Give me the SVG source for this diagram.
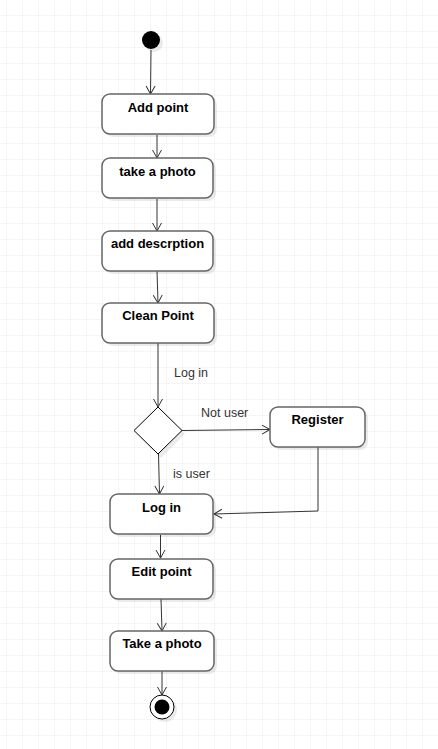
<svg xmlns="http://www.w3.org/2000/svg" width="438" height="749" viewBox="0 0 438 749">
<defs>
<pattern id="grid" x="6" y="15" width="16" height="16" patternUnits="userSpaceOnUse">
<path d="M0,0 H16 M0,0 V16" fill="none" stroke="#ebebeb" stroke-width="1"/>
</pattern>
<marker id="arr" markerWidth="12" markerHeight="12" refX="9" refY="5" orient="auto" markerUnits="userSpaceOnUse">
<path d="M1,0.5 L9,5 L1,9.5" fill="none" stroke="#333" stroke-width="1"/>
</marker>
</defs>
<style>
.node{fill:#fff;stroke:#666;stroke-width:1.5}
.shadow{fill:#000;opacity:0.08}
.t{font-family:"Liberation Sans",Arial,sans-serif;font-size:13px;font-weight:bold;fill:#000;text-anchor:middle}
.lbl{font-family:"Liberation Sans",Arial,sans-serif;font-size:12.5px;fill:#333}
.e{fill:none;stroke:#333;stroke-width:1;marker-end:url(#arr)}
</style>
<rect width="438" height="749" fill="#fff"/>
<rect width="438" height="749" fill="url(#grid)"/>

<g id="connectors">
<path class="e" d="M151,50 L150.5,94"/>
<path class="e" d="M157,135 L157,158"/>
<path class="e" d="M157,199 L157,231"/>
<path class="e" d="M157,271 L158,303"/>
<path class="e" d="M158,343 L158,407"/>
<path class="e" d="M182,430.5 L270,429.5"/>
<path class="e" d="M158.5,454 L159.5,494"/>
<path class="e" d="M318,447 L318,511 L214,514"/>
<path class="e" d="M160.5,535 L160.5,558"/>
<path class="e" d="M161,599 L162,631"/>
<path class="e" d="M162,671 L162,695"/>
<text class="lbl" x="174" y="377">Log in</text>
<text class="lbl" x="201" y="417">Not user</text>
<text class="lbl" x="173" y="478">is user</text>
</g>

<g id="start">
<circle class="shadow" cx="154" cy="43" r="9"/>
<circle cx="151" cy="40" r="9" fill="#000"/>
</g>
<g id="add-point">
<rect class="shadow" x="105" y="97" width="112" height="40" rx="8"/>
<rect class="node" x="102" y="94" width="112" height="40" rx="8"/>
<text class="t" x="158" y="112">Add point</text>
</g>
<g id="take-photo-1">
<rect class="shadow" x="105" y="161" width="111" height="40" rx="8"/>
<rect class="node" x="102" y="158" width="111" height="40" rx="8"/>
<text class="t" x="157.5" y="176">take a photo</text>
</g>
<g id="add-description">
<rect class="shadow" x="105" y="234" width="111" height="40" rx="8"/>
<rect class="node" x="102" y="231" width="111" height="40" rx="8"/>
<text class="t" x="157.5" y="248">add descrption</text>
</g>
<g id="clean-point">
<rect class="shadow" x="105" y="306" width="112" height="40" rx="8"/>
<rect class="node" x="102" y="303" width="112" height="40" rx="8"/>
<text class="t" x="158" y="320">Clean Point</text>
</g>
<g id="decision">
<path class="shadow" d="M161,410 L185,434 L161,458 L137,434 Z"/>
<path d="M158,407 L182,430.5 L158,454 L134,430.5 Z" fill="#fff" stroke="#000" stroke-width="1"/>
</g>
<g id="register">
<rect class="shadow" x="273" y="410" width="95" height="40" rx="8"/>
<rect class="node" x="270" y="407" width="95" height="40" rx="8"/>
<text class="t" x="317.5" y="424">Register</text>
</g>
<g id="log-in">
<rect class="shadow" x="113" y="497" width="103" height="40" rx="8"/>
<rect class="node" x="110" y="494" width="103" height="40" rx="8"/>
<text class="t" x="161.5" y="512">Log in</text>
</g>
<g id="edit-point">
<rect class="shadow" x="113" y="562" width="103" height="40" rx="8"/>
<rect class="node" x="110" y="559" width="103" height="40" rx="8"/>
<text class="t" x="161.5" y="576">Edit point</text>
</g>
<g id="take-photo-2">
<rect class="shadow" x="113" y="634" width="104" height="40" rx="8"/>
<rect class="node" x="110" y="631" width="104" height="40" rx="8"/>
<text class="t" x="162" y="648">Take a photo</text>
</g>
<g id="end">
<circle class="shadow" cx="165" cy="710" r="12"/>
<circle cx="162" cy="707" r="12" fill="#fff" stroke="#000" stroke-width="1"/>
<circle cx="162" cy="707" r="7.5" fill="#000"/>
</g>
</svg>
